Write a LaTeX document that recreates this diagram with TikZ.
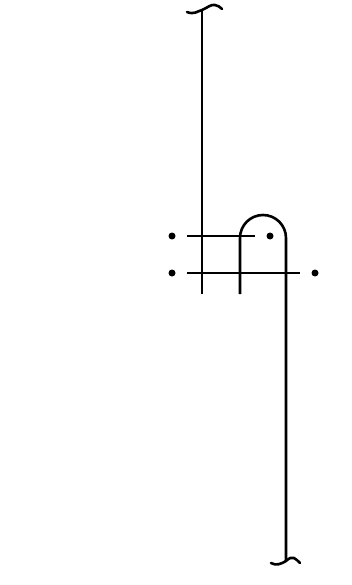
\documentclass[tikz,border=0pt]{standalone}
\begin{document}
\begin{tikzpicture}[x=1pt,y=-1pt,
  wire/.style={line width=2.6pt,black},
  dotmark/.style={circle,fill=black,inner sep=0pt,minimum size=7pt}]
\useasboundingbox (0,0) rectangle (352,585);
% coordinates
\coordinate (topA) at (202,10);
\coordinate (botA) at (202,294);
\coordinate (topB) at (240,238);
\coordinate (botB) at (240,294);
\coordinate (botC) at (286,561);
% dots
\node[dotmark] (d1) at (172,236) {};
\node[dotmark] (d2) at (270,236) {};
\node[dotmark] (d3) at (172,273) {};
\node[dotmark] (d4) at (315,273) {};
% verticals
\draw[wire] (topA) -- (botA);
\draw[wire] (botB) -- (topB) arc[start angle=180,end angle=360,radius=23] -- (botC);
% horizontals
\coordinate (h1l) at (187,236); \coordinate (h1r) at (255,236);
\coordinate (h2l) at (187,273); \coordinate (h2r) at (300,273);
\draw[wire] (h1l) -- (h1r);
\draw[wire] (h2l) -- (h2r);
% squiggles
\draw[wire,line cap=round] (187,12) .. controls (194,15) and (198,11) .. (202,10)
   .. controls (207,8) and (211,4) .. (215,5) .. controls (218,5.5) and (220,7) .. (222,9);
\draw[wire,line cap=round] (271,563) .. controls (276,566) and (281,564) .. (286,561)
   .. controls (289,558) and (292,557) .. (294,558) .. controls (296,559) and (298,561) .. (300,563);
\end{tikzpicture}
\end{document}
